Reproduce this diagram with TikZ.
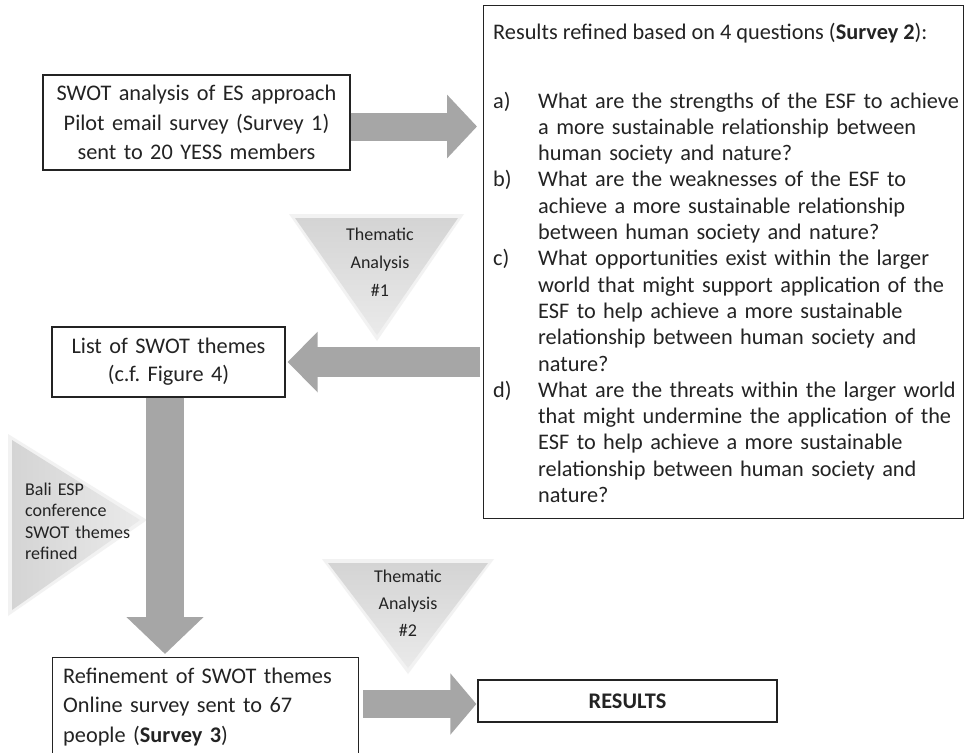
\documentclass[tikz,border=0pt]{standalone}
\usepackage{fontspec}
\setmainfont{Carlito}
\usetikzlibrary{arrows.meta,calc}
\definecolor{arrowgray}{RGB}{166,166,166}
\definecolor{tritop}{RGB}{212,212,212}
\definecolor{tribot}{RGB}{234,234,234}
\definecolor{trisoft}{RGB}{242,242,242}
\definecolor{ink}{RGB}{35,35,35}
\newcommand{\fsbox}{\fontsize{22.3}{29.5}\selectfont}
\newcommand{\fsboxb}{\fontsize{22.3}{28}\selectfont}
\newcommand{\fslist}{\fontsize{22.3}{26.3}\selectfont}
\newcommand{\fstri}{\fontsize{18}{28}\selectfont}
\newcommand{\fstrib}{\fontsize{18}{27}\selectfont}
\newcommand{\fsbali}{\fontsize{18}{21.5}\selectfont}
\frenchspacing
\begin{document}
\begin{tikzpicture}[x=1pt,y=-1pt,
  boxst/.style={draw=ink, line width=1.3pt, fill=white, inner sep=0pt, text=ink},
  txt/.style={inner sep=0pt, text=ink},
  blockarrow/.style={draw=arrowgray, line width=#1},
  blockarrow/.default=28pt]
\clip (0,0) rectangle (965,752);
\fill[white] (0,0) rectangle (965,752);

% soft grey triangles (with a faint halo imitating the blurred edge)
\fill[trisoft] (289,214) -- (464,214) -- (377,341) -- cycle;
\shade[top color=tritop, bottom color=tribot] (295,218) -- (458,218) -- (377,335) -- cycle;
\fill[trisoft] (322,559) -- (494,559) -- (408,674) -- cycle;
\shade[top color=tritop, bottom color=tribot] (328,563) -- (488,563) -- (408,668) -- cycle;
\fill[trisoft] (8,434) -- (147,520) -- (8,616) -- cycle;
\shade[left color=tritop, right color=tribot] (12,440) -- (140,520) -- (12,610) -- cycle;

% boxes
\node[boxst, minimum width=307pt, minimum height=95pt, text width=300pt, align=center, font=\fsbox]
  (swot) at (196.5,122.5) {SWOT analysis of ES approach\\Pilot email survey (Survey 1)\\sent to 20 YESS members};
\node[boxst, anchor=north west, minimum width=480pt, minimum height=513pt] (survey) at (483,5) {};
\node[boxst, minimum width=233pt, minimum height=70pt, text width=225pt, align=center, font=\fsboxb]
  (themes) at (168.5,362) {List of SWOT themes\\(c.f. Figure 4)};
\node[boxst, anchor=north west, minimum width=306pt, minimum height=130pt] (refine) at (52,657) {};
\node[boxst, minimum width=299pt, minimum height=42pt, font=\fsbox\bfseries] (results) at (627.5,701) {RESULTS};

% texts
\node[txt, anchor=base west, font=\fslist] (head) at (493,40) {Results refined based on 4 questions (\textbf{Survey 2}):};
\node[txt, anchor=base west, text width=468pt, align=left, font=\fslist] (qlist) at (493,108) {%
\makebox[45pt][l]{a)}What are the strengths of the ESF to achieve\\
\hspace*{45pt}a more sustainable relationship between\\
\hspace*{45pt}human society and nature?\\
\makebox[45pt][l]{b)}What are the weaknesses of the ESF to\\
\hspace*{45pt}achieve a more sustainable relationship\\
\hspace*{45pt}between human society and nature?\\
\makebox[45pt][l]{c)}What opportunities exist within the larger\\
\hspace*{45pt}world that might support application of the\\
\hspace*{45pt}ESF to help achieve a more sustainable\\
\hspace*{45pt}relationship between human society and\\
\hspace*{45pt}nature?\\
\makebox[45pt][l]{d)}What are the threats within the larger world\\
\hspace*{45pt}that might undermine the application of the\\
\hspace*{45pt}ESF to help achieve a more sustainable\\
\hspace*{45pt}relationship between human society and\\
\hspace*{45pt}nature?};
\node[txt, anchor=base west, text width=290pt, align=left, font=\fsbox] (refinetext) at (63,683)
  {Refinement of SWOT themes\\Online survey sent to 67\\people (\textbf{Survey 3})};
\node[txt, anchor=base, text width=120pt, align=center, font=\fstri] (ta1) at (380,240) {Thematic\\Analysis\\\#1};
\node[txt, anchor=base, text width=120pt, align=center, font=\fstrib] (ta2) at (408,582) {Thematic\\Analysis\\\#2};
\node[txt, anchor=base west, text width=115pt, align=left, font=\fsbali] (bali) at (25,495) {Bali ESP\\conference\\SWOT themes\\refined};

% block arrows
\draw[blockarrow, -{Triangle[length=30pt,width=62pt]}, shorten >=6pt]
  ($(swot.east)+(0,4)$) -- ($(survey.west |- swot.east)+(0,4)$);
\draw[blockarrow=30pt, -{Triangle[length=30pt,width=59pt]}, shorten >=2pt, shorten <=3pt]
  (survey.west |- themes.east) -- (themes.east);
\draw[blockarrow=38pt, -{Triangle[length=37pt,width=75pt]}, shorten >=3pt]
  ($(themes.south)+(-3.5,0)$) -- ($(themes.south |- refine.north)+(-3.5,0)$);
\draw[blockarrow, -{Triangle[length=26pt,width=60pt]}, shorten <=4pt, shorten >=1pt]
  ($(results.west -| refine.east)+(0,3)$) -- ($(results.west)+(0,3)$);
\end{tikzpicture}
\end{document}
